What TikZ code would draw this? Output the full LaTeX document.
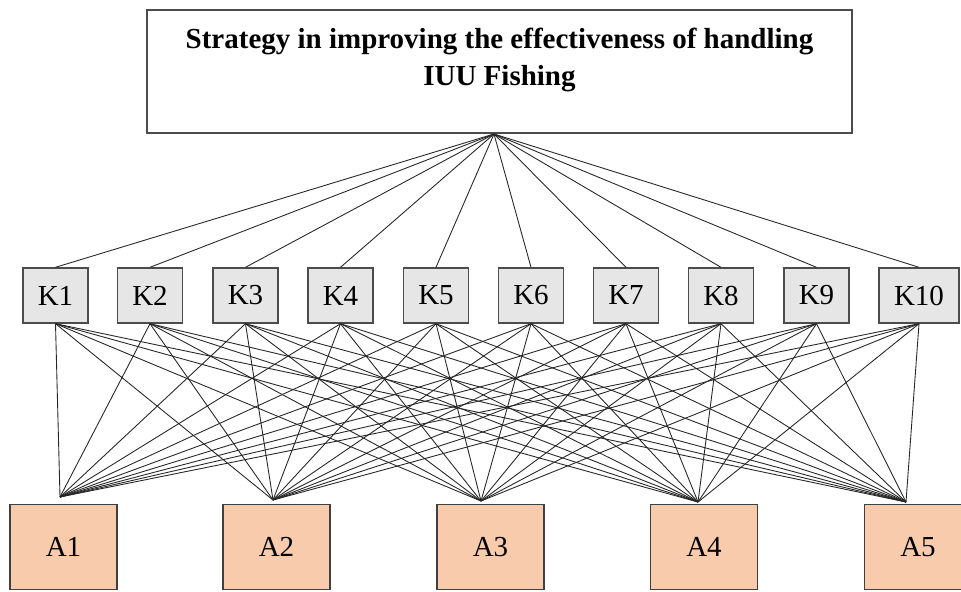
\documentclass[tikz,border=0pt]{standalone}
\usepackage{fontspec}
\setmainfont{Liberation Serif}
\definecolor{kgray}{HTML}{E6E6E6}
\definecolor{apeach}{HTML}{F8CBAD}
\tikzset{
  goalbox/.style={rectangle,draw=black!70,line width=0.9pt,fill=white,minimum width=14.1cm,
    align=center,font=\fontsize{16.5}{21}\selectfont\bfseries,inner xsep=0pt,
    inner ysep=0.38cm,text height=1.14cm,text depth=0.56cm},
  critbox/.style={rectangle,draw=black!70,line width=0.8pt,fill=kgray,minimum width=1.3cm,
    minimum height=1.1cm,inner sep=0pt,font=\fontsize{16.5}{18}\selectfont},
  altbox/.style={rectangle,draw=black!75,line width=0.8pt,fill=apeach,minimum width=2.14cm,
    minimum height=1.7cm,inner sep=0pt,font=\fontsize{16.5}{18}\selectfont},
  link/.style={black!85,line width=0.5pt}
}
\begin{document}
\begin{tikzpicture}[x=0.02cm,y=-0.02cm]
    \useasboundingbox (0,0) rectangle (961,592);
    %goal
    \node (goal) at (499.5,9) [goalbox,anchor=north]{Strategy in improving the effectiveness of handling\\IUU Fishing};
    \coordinate (hub) at (494,134);

    %criteria
    \node (K1) at (55.5,295.5) [critbox]{K1};
    \node (K2) at (150,295.5) [critbox]{K2};
    \node (K3) at (245.5,295.5) [critbox]{K3};
    \node (K4) at (340.5,295.5) [critbox]{K4};
    \node (K5) at (436,295.5) [critbox]{K5};
    \node (K6) at (531,295.5) [critbox]{K6};
    \node (K7) at (626,295.5) [critbox]{K7};
    \node (K8) at (721,295.5) [critbox]{K8};
    \node (K9) at (816.5,295.5) [critbox]{K9};
    \node (K10) at (919,295.5) [critbox,minimum width=1.6cm]{K10};

    %alternatives
    \node (A1) at (63.5,547) [altbox]{A1};
    \node (A2) at (276.5,547) [altbox]{A2};
    \node (A3) at (490.5,547) [altbox]{A3};
    \node (A4) at (704,547) [altbox]{A4};
    \node (A5) at (918,547) [altbox]{A5};
    \coordinate (a1) at (60,497);
    \coordinate (a2) at (273,500);
    \coordinate (a3) at (481,501);
    \coordinate (a4) at (698,502);
    \coordinate (a5) at (906,502);

    \foreach \k in {1,...,10} {
      \draw [link] (hub) -- (K\k.north);
      \foreach \a in {1,...,5}
        \draw [link] (K\k.south) -- (a\a);
    }
\end{tikzpicture}
\end{document}
